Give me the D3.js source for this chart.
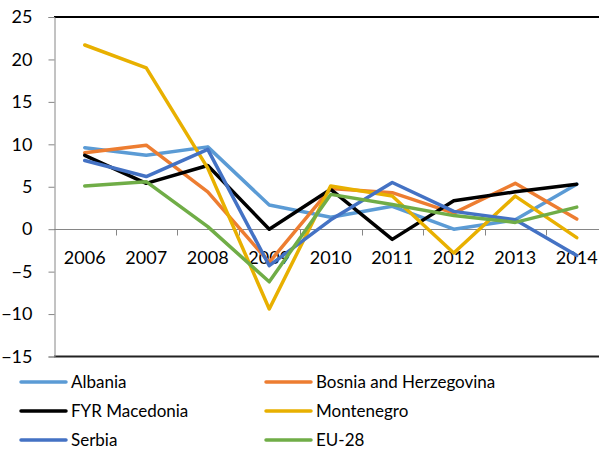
<!DOCTYPE html>
<html>
<head>
<meta charset="utf-8">
<script src="https://cdn.jsdelivr.net/npm/d3@7"></script>
<style>
  body { margin: 0; background: #fff; }
  svg { display: block; font-family: Lato, "Liberation Sans", sans-serif; }
</style>
</head>
<body>
<svg id="chart" width="599" height="451"></svg>
<script>
const years = ["2006", "2007", "2008", "2009", "2010", "2011", "2012", "2013", "2014"];
const y_ticks = [-15, -10, -5, 0, 5, 10, 15, 20, 25];

const albania = [9.6, 8.7, 9.7, 2.85, 1.4, 2.7, 0.0, 1.1, 5.3];
const bosnia = [9.0, 9.9, 4.4, -3.9, 4.8, 4.3, 1.9, 5.4, 1.2];
const macedonia = [8.7, 5.4, 7.5, 0.0, 4.7, -1.2, 3.35, 4.4, 5.3];
const montenegro = [21.7, 19.0, 7.2, -9.4, 5.1, 3.9, -2.8, 3.9, -1.0];
const serbia = [8.1, 6.2, 9.4, -4.3, 1.1, 5.5, 2.1, 1.1, -3.1];
const eu28 = [5.1, 5.6, 0.3, -6.2, 4.1, 2.9, 1.6, 0.8, 2.6];

const series_names = ["Albania", "Bosnia and Herzegovina", "FYR Macedonia", "Montenegro", "Serbia", "EU-28"];
const series_colors = ["#5B9BD5", "#ED7D31", "#000000", "#E8B000", "#4472C4", "#70AD47"];
const series_values = [albania, bosnia, macedonia, montenegro, serbia, eu28];

const svg = d3.select("#chart"),
  plot = {left: 54, top: 17, bottom: 356.5, band: 61.5};

// band scale for category slots, points drawn at band centers
const x = d3.scaleBand().domain(years).range([plot.left, plot.left + plot.band * years.length]);
const y = d3.scaleLinear().domain([-15, 25]).range([plot.bottom, plot.top]);

// top and bottom border of the plot area
svg.append("line")
  .attr("x1", plot.left).attr("x2", 599)
  .attr("y1", plot.top).attr("y2", plot.top)
  .attr("stroke", "#000").attr("stroke-width", 2);
svg.append("line")
  .attr("x1", plot.left).attr("x2", 599)
  .attr("y1", plot.bottom).attr("y2", plot.bottom)
  .attr("stroke", "#222").attr("stroke-width", 2);

// y axis
const y_axis = d3.axisLeft(y).tickValues(y_ticks).tickSize(6).tickPadding(16);
const gy = svg.append("g")
  .attr("transform", `translate(${plot.left + 0.5},0)`)
  .call(y_axis);
gy.select(".domain").attr("stroke", "#868686");
gy.selectAll(".tick line").attr("stroke", "#868686");
gy.selectAll(".tick text")
  .attr("font-size", 18)
  .attr("fill", "#000")
  .style("font-family", "Lato, sans-serif");

// x axis sitting on zero, ticks between categories
const zero_y = Math.round(y(0)) + 0.5;
svg.append("line")
  .attr("x1", plot.left).attr("x2", 599)
  .attr("y1", zero_y).attr("y2", zero_y)
  .attr("stroke", "#868686").attr("stroke-width", 1);
svg.selectAll(".xtick")
  .data(years.slice(1))
  .enter()
  .append("line")
  .attr("class", "xtick")
  .attr("x1", d => Math.round(x(d)) + 0.5)
  .attr("x2", d => Math.round(x(d)) + 0.5)
  .attr("y1", zero_y).attr("y2", zero_y + 6)
  .attr("stroke", "#868686");
svg.selectAll(".xlabel")
  .data(years)
  .enter()
  .append("text")
  .attr("class", "xlabel")
  .attr("x", d => x(d) + x.bandwidth() / 2)
  .attr("y", 264)
  .attr("text-anchor", "middle")
  .attr("font-size", 18)
  .text(d => d);

// series lines
const line = d3.line()
  .x((d, i) => x(years[i]) + x.bandwidth() / 2)
  .y(d => y(d));

svg.selectAll(".series")
  .data(series_values)
  .enter()
  .append("path")
  .attr("class", "series")
  .attr("d", d => line(d))
  .attr("fill", "none")
  .attr("stroke", (d, i) => series_colors[i])
  .attr("stroke-width", 3.5)
  .attr("stroke-linejoin", "round")
  .attr("stroke-linecap", "round");

// legend, two columns by three rows
const legend = svg.selectAll(".legend")
  .data(series_names)
  .enter()
  .append("g")
  .attr("class", "legend")
  .attr("transform", (d, i) => `translate(${i % 2 === 0 ? 21 : 266},${382 + Math.floor(i / 2) * 29})`);
legend.append("line")
  .attr("x1", 0).attr("x2", 45)
  .attr("y1", 0).attr("y2", 0)
  .attr("stroke", (d, i) => series_colors[i])
  .attr("stroke-width", 3.5)
  .attr("stroke-linecap", "round");
legend.append("text")
  .attr("x", 50)
  .attr("y", 6)
  .attr("font-size", 17)
  .text(d => d);
</script>
</body>
</html>
